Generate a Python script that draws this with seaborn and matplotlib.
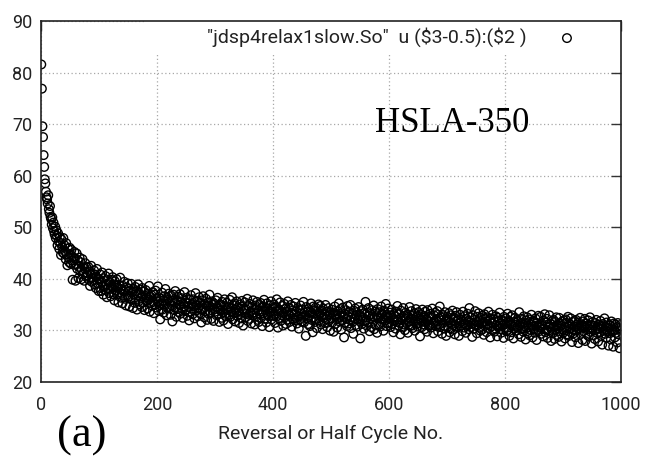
import numpy as np
import pandas as pd
import matplotlib
matplotlib.use("Agg")
import matplotlib.pyplot as plt
from matplotlib.patches import Rectangle
import seaborn as sns

# ---------------- data ----------------
y_000 = [81.6, 76.9, 69.6, 67.5, 64.0, 61.7, 59.3, 58.5, 56.9, 55.8,
         55.4, 54.6, 56.2, 53.5, 52.8, 54.1, 52.0, 51.6, 50.5, 51.9,
         49.8, 50.9, 49.2, 48.6, 50.1, 47.9, 49.4, 48.3, 46.5, 48.8,
         47.2, 45.8, 48.1, 46.9, 44.6, 47.6, 46.2, 45.1, 47.9, 44.9,
         46.5, 45.3, 43.8, 46.9, 44.7, 42.6, 45.9, 44.1, 43.2, 46.0,
         44.8, 42.9, 45.6, 43.5, 39.8, 44.2, 42.7, 45.2, 43.9, 39.6,
         42.8, 44.9, 41.9, 43.6, 40.1, 42.3, 44.1, 41.5, 43.2, 39.9,
         41.7, 43.8, 40.9, 42.4, 39.6, 41.9, 43.0, 40.4, 42.2, 41.1,
         40.6, 42.3, 39.8, 41.4, 38.6, 40.9, 42.5, 39.4, 41.0, 40.2,
         39.7, 41.6, 38.9, 40.8, 38.2, 40.3, 41.9, 39.1, 40.0, 37.6]
y_100 = [39.9, 38.2, 40.8, 37.6, 39.4, 41.2, 38.7, 36.9, 40.1, 38.4,
         37.8, 40.5, 38.9, 36.4, 39.7, 38.1, 41.0, 37.2, 39.3, 38.0,
         36.6, 39.8, 38.4, 40.3, 37.0, 38.9, 35.8, 39.5, 37.7, 38.6,
         39.9, 36.9, 38.2, 35.4, 38.8, 37.4, 40.2, 36.3, 38.0, 37.1,
         35.2, 38.6, 37.5, 39.4, 36.1, 37.9, 34.8, 38.3, 36.8, 39.1,
         36.5, 38.1, 34.6, 37.7, 36.2, 39.0, 35.9, 37.4, 34.3, 38.0,
         36.9, 35.3, 38.4, 36.0, 37.6, 34.0, 36.8, 38.9, 35.6, 37.2,
         35.0, 37.9, 36.3, 34.5, 38.2, 36.6, 35.4, 37.5, 33.9, 36.7,
         37.8, 35.7, 36.4, 34.2, 37.1, 35.9, 38.6, 33.6, 36.5, 35.3,
         36.8, 34.8, 37.4, 35.5, 33.3, 36.9, 35.0, 37.7, 34.4, 36.2]
y_200 = [35.6, 38.5, 33.8, 36.4, 34.9, 32.1, 36.1, 35.2, 37.3, 34.0,
         35.8, 33.4, 36.6, 34.7, 38.0, 35.1, 32.9, 36.3, 34.4, 35.9,
         37.1, 34.2, 35.5, 33.0, 36.7, 34.8, 31.7, 35.7, 36.9, 33.9,
         35.3, 37.6, 34.5, 32.6, 35.8, 34.1, 36.5, 33.5, 35.0, 37.0,
         33.2, 35.6, 34.3, 36.2, 32.4, 35.1, 34.6, 37.4, 33.7, 35.4,
         34.0, 36.3, 32.8, 35.2, 34.5, 31.9, 35.9, 33.6, 36.8, 34.2,
         35.0, 33.1, 36.0, 34.6, 32.3, 35.5, 37.2, 33.8, 34.9, 35.7,
         32.7, 34.4, 36.4, 33.3, 35.3, 34.0, 31.5, 35.8, 33.9, 36.6,
         34.3, 32.5, 35.1, 33.7, 36.1, 34.8, 32.0, 35.4, 33.2, 34.7,
         36.9, 33.4, 34.5, 32.2, 35.6, 33.8, 34.9, 31.8, 35.2, 34.1]
y_300 = [33.6, 35.8, 32.9, 34.6, 36.3, 33.1, 34.2, 31.6, 35.0, 33.8,
         34.9, 32.4, 35.5, 33.5, 31.9, 34.7, 36.0, 33.2, 34.1, 32.7,
         35.3, 33.9, 31.2, 34.5, 33.0, 35.9, 32.6, 34.3, 33.6, 36.4,
         32.1, 34.8, 33.4, 35.2, 31.7, 34.0, 33.3, 35.6, 32.8, 34.4,
         33.7, 31.4, 35.0, 33.1, 34.6, 32.3, 35.7, 33.5, 30.9, 34.2,
         33.9, 35.4, 32.5, 34.1, 33.2, 36.1, 31.8, 34.7, 33.0, 32.2,
         35.1, 33.6, 31.3, 34.5, 32.9, 35.8, 33.4, 34.0, 31.1, 34.8,
         32.6, 34.3, 35.5, 32.0, 33.8, 31.6, 34.9, 33.1, 35.3, 32.4,
         33.7, 30.8, 34.6, 33.3, 35.9, 32.2, 33.9, 34.4, 31.5, 35.2,
         33.0, 34.1, 32.7, 30.6, 34.8, 33.5, 35.6, 32.1, 33.6, 34.3]
y_400 = [32.8, 35.0, 33.2, 31.4, 34.5, 32.6, 36.0, 33.7, 30.5, 34.1,
         32.3, 33.9, 35.4, 31.8, 33.5, 32.9, 34.7, 30.9, 33.3, 35.1,
         32.5, 34.2, 31.2, 33.6, 32.0, 35.6, 33.0, 34.4, 31.6, 32.8,
         34.9, 33.4, 30.7, 33.8, 32.2, 34.6, 31.9, 33.1, 35.3, 32.4,
         33.7, 31.3, 34.3, 32.7, 30.3, 33.9, 32.1, 34.8, 33.2, 31.7,
         34.0, 32.6, 35.5, 31.5, 33.4, 32.9, 28.9, 34.5, 32.3, 33.6,
         31.2, 34.1, 32.8, 30.8, 33.5, 35.2, 32.0, 33.3, 29.6, 34.6,
         32.5, 33.9, 31.6, 34.4, 32.2, 30.4, 33.7, 32.9, 35.0, 31.9,
         33.2, 34.7, 31.1, 32.7, 33.8, 30.2, 34.2, 32.4, 33.0, 31.4,
         34.9, 32.1, 33.6, 30.6, 32.8, 34.3, 31.8, 33.1, 29.9, 33.5]
y_500 = [32.3, 34.0, 31.5, 33.4, 29.7, 32.9, 34.6, 31.2, 33.0, 32.1,
         30.5, 33.7, 32.4, 35.2, 31.7, 32.8, 34.1, 30.1, 33.3, 31.9,
         34.4, 32.6, 28.6, 33.1, 31.4, 33.9, 32.2, 30.8, 34.7, 32.7,
         31.3, 33.6, 32.0, 34.9, 30.4, 32.5, 33.2, 31.6, 29.3, 33.8,
         32.3, 34.2, 31.0, 32.9, 33.5, 30.7, 32.1, 34.5, 31.8, 33.0,
         28.4, 32.6, 33.7, 31.2, 34.0, 32.4, 30.3, 33.3, 31.7, 35.5,
         32.0, 30.9, 33.4, 31.5, 34.3, 32.8, 29.8, 33.1, 32.2, 30.6,
         33.9, 31.4, 32.7, 34.8, 30.2, 32.5, 33.6, 31.1, 32.9, 29.5,
         34.1, 32.3, 31.0, 33.5, 30.7, 32.8, 34.6, 31.6, 33.2, 32.0,
         29.9, 33.8, 31.9, 32.6, 35.1, 30.8, 33.0, 31.3, 34.2, 32.4]
y_600 = [31.5, 33.4, 30.6, 32.9, 34.0, 31.2, 32.4, 29.6, 33.1, 31.8,
         32.7, 30.3, 33.6, 31.6, 34.7, 32.1, 30.9, 33.2, 31.4, 29.2,
         33.8, 31.9, 32.5, 30.5, 34.3, 31.1, 32.8, 30.0, 33.4, 32.2,
         31.3, 33.0, 29.5, 32.6, 31.7, 34.5, 30.8, 32.3, 33.7, 31.0,
         30.4, 32.9, 31.6, 33.3, 29.9, 32.0, 34.1, 31.2, 32.7, 30.7,
         33.5, 31.4, 32.2, 28.8, 33.1, 31.9, 30.6, 34.0, 32.4, 31.1,
         32.8, 30.2, 33.6, 31.5, 32.1, 29.7, 33.9, 31.8, 30.9, 32.6,
         31.0, 33.2, 30.5, 32.4, 34.2, 31.3, 29.4, 32.9, 31.6, 33.4,
         30.8, 32.0, 31.7, 33.7, 29.8, 32.3, 31.1, 34.6, 30.6, 32.5,
         31.9, 29.3, 33.0, 31.4, 32.7, 30.3, 33.5, 31.8, 28.9, 32.2]
y_700 = [32.6, 30.7, 31.9, 33.3, 29.6, 31.5, 32.9, 30.4, 31.2, 33.8,
         30.1, 32.4, 31.0, 29.2, 32.8, 31.6, 33.5, 30.6, 31.9, 32.3,
         28.9, 31.4, 33.0, 30.9, 32.1, 31.7, 29.8, 33.6, 31.3, 30.5,
         32.7, 31.1, 29.5, 32.2, 30.8, 33.2, 31.8, 30.2, 34.3, 31.5,
         30.6, 32.5, 31.2, 28.7, 32.9, 31.4, 30.3, 32.0, 33.7, 30.9,
         31.6, 29.4, 32.6, 31.0, 33.3, 30.5, 31.9, 29.9, 32.4, 31.3,
         30.1, 32.8, 31.5, 29.1, 33.1, 30.8, 32.2, 31.7, 29.6, 32.5,
         31.2, 33.6, 30.4, 31.8, 28.6, 32.3, 30.7, 31.4, 33.0, 30.0,
         32.1, 29.7, 31.6, 30.3, 32.7, 31.0, 28.8, 32.4, 30.6, 31.9,
         33.4, 30.2, 31.3, 29.5, 32.0, 30.9, 31.7, 28.5, 32.6, 31.1]
y_800 = [30.4, 32.3, 29.8, 31.5, 33.2, 30.1, 31.8, 28.9, 31.2, 32.6,
         29.6, 31.0, 32.9, 30.7, 28.4, 31.6, 30.3, 32.4, 31.1, 29.9,
         32.0, 30.5, 31.7, 29.2, 33.5, 30.9, 31.4, 28.7, 32.2, 30.2,
         31.3, 29.7, 32.7, 30.8, 31.5, 28.2, 31.9, 30.4, 32.5, 29.4,
         30.6, 32.1, 29.0, 31.2, 30.0, 33.0, 30.7, 28.6, 31.8, 30.3,
         31.6, 29.5, 32.3, 30.9, 28.1, 31.4, 30.1, 32.8, 29.8, 31.0,
         30.5, 32.6, 29.3, 31.3, 30.8, 28.8, 31.9, 30.2, 33.1, 29.6,
         31.5, 30.0, 32.2, 28.5, 31.1, 29.9, 32.9, 30.6, 31.2, 27.9,
         30.3, 31.8, 29.4, 32.0, 30.7, 28.3, 31.6, 30.1, 32.5, 29.1,
         31.0, 30.4, 28.7, 32.4, 29.8, 31.3, 30.9, 27.8, 31.7, 30.2]
y_900 = [29.5, 31.9, 30.6, 28.4, 32.1, 30.0, 31.4, 29.2, 32.6, 30.8,
         28.9, 31.2, 30.3, 32.3, 29.6, 27.7, 31.6, 30.1, 29.4, 31.8,
         30.7, 28.6, 32.0, 29.9, 31.1, 30.4, 27.5, 31.5, 30.2, 32.4,
         29.3, 31.0, 30.6, 28.1, 31.7, 29.8, 30.9, 32.2, 27.9, 30.5,
         31.3, 29.1, 30.8, 31.9, 28.8, 30.2, 32.5, 29.7, 31.0, 27.4,
         30.4, 31.6, 29.0, 30.9, 28.3, 31.4, 30.1, 32.0, 29.5, 30.7,
         27.8, 31.1, 30.3, 29.6, 31.8, 28.9, 30.6, 27.2, 31.2, 29.9,
         30.8, 32.3, 29.3, 30.0, 28.5, 31.5, 29.8, 30.5, 27.0, 31.0,
         29.4, 30.9, 28.2, 31.7, 30.2, 29.7, 26.8, 31.3, 30.0, 28.6,
         31.1, 29.5, 30.6, 27.6, 31.4, 29.2, 30.4, 26.5, 31.0, 30.1]

stress = y_000 + y_100 + y_200 + y_300 + y_400 + y_500 + y_600 + y_700 + y_800 + y_900
reversal = np.arange(1, len(stress) + 1) - 0.5   # gnuplot: ($3-0.5)

series_label = r'"jdsp4relax1slow.So"  u (\$3-0.5):(\$2 )'
x_ticks = [0, 200, 400, 600, 800, 1000]
y_ticks = [20, 30, 40, 50, 60, 70, 80, 90]
x_label = "Reversal or Half Cycle No."
material = "HSLA-350"
panel = "(a)"

df = pd.DataFrame({"reversal": reversal, "stress": stress})

# ---------------- style ----------------
sns.set_theme(style="white")
plt.rcParams["font.family"] = ["Roboto", "DejaVu Sans"]

fig = plt.figure(figsize=(6.47, 4.58), dpi=100)
ax = fig.add_axes([41 / 647, (458 - 381.7) / 458, 580 / 647, 360.5 / 458])

sns.scatterplot(data=df, x="reversal", y="stress", ax=ax, marker="o",
                s=38, linewidth=1.0, label=series_label, zorder=3)
coll = ax.collections[0]
coll.set_facecolor("none")
coll.set_edgecolor("black")

ax.set_xlim(0, 1000)
ax.set_ylim(20, 90)
ax.set_xticks(x_ticks)
ax.set_yticks(y_ticks)
ax.set_xlabel(x_label, fontsize=14, color="#222222", labelpad=8)
ax.set_ylabel("")

ax.grid(True, color="#a8a8a8", linestyle=(0, (1, 2)), linewidth=0.9)
ax.set_axisbelow(True)
for s in ax.spines.values():
    s.set_linewidth(1.2)
    s.set_color("#222222")
    s.set_zorder(4)

ax.tick_params(direction="in", length=7, width=1.0, color="#333333",
               top=True, right=True, labelsize=13, labelcolor="#222222")
ax.tick_params(axis="x", pad=10)
ax.tick_params(axis="y", pad=6)

# blank key area (gnuplot key box hides grid behind it)
ax.add_patch(Rectangle(((145 - 41) / 580, (381.7 - 53) / 360.5),
                       1 - (145 - 41) / 580, 1 - (381.7 - 53) / 360.5,
                       transform=ax.transAxes, facecolor="white",
                       edgecolor="none", zorder=1))

leg = ax.legend(loc="upper right", bbox_to_anchor=((586.4 - 41) / 580, 0.982),
                frameon=False, markerfirst=False, borderpad=0, borderaxespad=0,
                handlelength=2.0, handletextpad=1.06, fontsize=14)
for t in leg.get_texts():
    t.set_color("#222222")

fig.text(452 / 647, 1 - 123 / 458, material, ha="center", va="center",
         family=["Liberation Serif", "DejaVu Serif"], fontsize=25, color="black")
fig.text(82 / 647, 1 - 436 / 458, panel, ha="center", va="center",
         family=["Liberation Serif", "DejaVu Serif"], fontsize=32, color="black")

fig.savefig("out.png", dpi=100, facecolor="white")
